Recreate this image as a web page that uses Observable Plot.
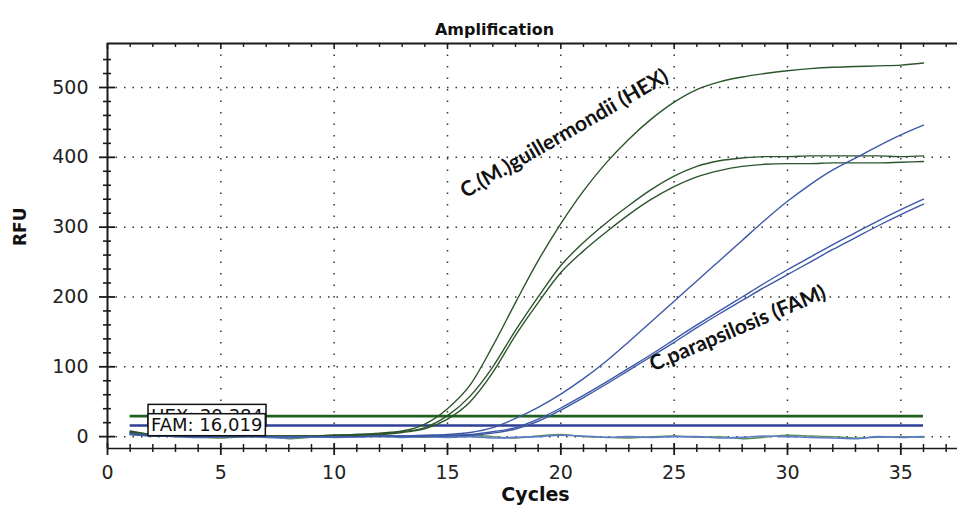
<!DOCTYPE html>
<html><head><meta charset="utf-8">
<script src="https://cdn.jsdelivr.net/npm/d3@7"></script>
<script src="https://cdn.jsdelivr.net/npm/@observablehq/plot@0.6"></script>
<style>body{margin:0;background:#fff;}</style>
</head><body><div id="chart"></div>
<script>
// ---- data ----
const cycles = [1,2,3,4,5,6,7,8,9,10,11,12,13,14,15,16,17,18,19,20,21,22,23,24,25,26,27,28,29,30,31,32,33,34,35,36];

const hex1 = [8,3,2,1,1,1,1,1,1,2,3,5,8,18,40,74,130,192,252,305,352,392,426,455,479,497,508,515,520,524,527,529,530,531,532,535];
const hex2 = [7,3,2,1,1,1,1,1,1,2,3,4,7,13,30,58,100,152,200,245,278,306,331,354,373,387,395,399,401,401,402,402,402,402,401,402];
const hex3 = [6,2,1,1,0,0,1,0,1,1,2,3,6,11,25,50,92,145,192,235,266,293,318,340,358,372,381,387,390,391,391,392,392,392,393,394];

const fam1 = [4,2,1,0,0,0,0,0,0,0,0,1,1,2,3,6,13,26,42,61,83,108,136,165,194,223,252,281,310,337,361,382,399,416,432,446];
const fam2 = [4,2,1,0,0,0,0,0,0,0,0,0,1,1,2,3,7,13,25,41,59,78,98,118,139,160,180,200,220,239,257,275,292,309,325,340];
const fam3 = [3,1,1,0,0,0,0,0,0,0,0,0,0,1,1,2,5,11,22,38,56,75,95,115,135,156,176,195,214,232,250,268,285,302,318,333];

const hexBaseline = [3,1,0,-1,-2,0,1,-3,-1,0,1,2,0,-1,1,2,0,-2,1,3,0,-1,-2,0,1,-1,0,-3,-1,2,1,0,-2,-1,0,-1];
const famBaseline = [6,2,0,-1,0,1,-1,-2,0,-1,0,1,-1,0,-1,0,-2,-1,0,2,1,-1,0,-1,0,0,-2,-1,1,0,-1,-2,-3,0,-1,0];

const thresholdNames  = ["HEX", "FAM"];
const thresholdValues = [29.384, 16.019];
const thresholdLabels = ["HEX: 29,384", "FAM: 16,019"];
const thresholdStart = 1, thresholdEnd = 36, thresholdLabelCycle = 1.92;

const xMajorTicks = [0,5,10,15,20,25,30,35];
const xMinorTicks = [1,2,3,4,6,7,8,9,11,12,13,14,16,17,18,19,21,22,23,24,26,27,28,29,31,32,33,34,36,37];
const yMajorTicks = [0,100,200,300,400,500];
const yMinorTicks = [20,40,60,80,120,140,160,180,220,240,260,280,320,340,360,380,420,440,460,480,520,540];

const xDomain = [0, 37.5];
const yDomain = [-17, 563];

const annotationTexts  = ["C.(M.)guillermondii (HEX)", "C.parapsilosis (FAM)"];
const annotationCycles = [20.15, 27.8];
const annotationRFU    = [434, 155];
const annotationAngles = [-30, -23];

// ---- build tables ----
const rows = (vals, series) => cycles.map((c, i) => ({cycle: c, rfu: vals[i], series}));
const hexCurves = [...rows(hex1, "h1"), ...rows(hex2, "h2"), ...rows(hex3, "h3")];
const famCurves = [...rows(fam1, "f1"), ...rows(fam2, "f2"), ...rows(fam3, "f3")];
const thresholds = thresholdNames.map((n, i) => ({name: n, value: thresholdValues[i], label: thresholdLabels[i]}));
const annotations = annotationTexts.map((t, i) => ({text: t, cycle: annotationCycles[i], rfu: annotationRFU[i], angle: annotationAngles[i]}));

const GREEN = "#2c552c", BLUE = "#3d58a6";
const INK = "#1a1a1a";
const FONT = "DejaVu Sans";

const chart = Plot.plot({
  width: 957, height: 511,
  marginLeft: 107, marginRight: 0, marginTop: 43, marginBottom: 63,
  x: {domain: xDomain},
  y: {domain: yDomain},
  style: {fontFamily: FONT, background: "#fff", color: INK, overflow: "visible"},
  marks: [
    // dotted grid
    Plot.ruleX(xMajorTicks.slice(1), {stroke: "#333", strokeWidth: 1.5, strokeDasharray: "1.5,10"}),
    Plot.ruleY(yMajorTicks, {stroke: "#333", strokeWidth: 1.5, strokeDasharray: "1.5,7"}),
    // thresholds
    Plot.ruleY(thresholds, {y: "value", x1: thresholdStart, x2: thresholdEnd,
      stroke: d => d.name === "HEX" ? "#1f5f1f" : "#2e3f95", strokeWidth: 2.6}),
    // baseline noise
    Plot.line(cycles.map((c, i) => ({cycle: c, rfu: hexBaseline[i]})), {x: "cycle", y: "rfu", stroke: "#5d8f5d", strokeWidth: 1.4, curve: "monotone-x"}),
    Plot.line(cycles.map((c, i) => ({cycle: c, rfu: famBaseline[i]})), {x: "cycle", y: "rfu", stroke: "#5a7cc8", strokeWidth: 1.6, curve: "monotone-x"}),
    // amplification curves
    Plot.line(hexCurves, {x: "cycle", y: "rfu", z: "series", stroke: GREEN, strokeWidth: 1.4, curve: "monotone-x"}),
    Plot.line(famCurves, {x: "cycle", y: "rfu", z: "series", stroke: BLUE, strokeWidth: 1.4, curve: "monotone-x"}),
    // frame / axis lines
    Plot.ruleX([xDomain[0]], {stroke: INK, strokeWidth: 2}),
    Plot.ruleY([yDomain[1]], {stroke: INK, strokeWidth: 2}),
    Plot.ruleY([yDomain[0]], {stroke: INK, strokeWidth: 1.6}),
    // left ticks
    Plot.ruleY(yMinorTicks, {x1: xDomain[0], x2: xDomain[0], insetLeft: -4, insetRight: -4, stroke: INK, strokeWidth: 1.6}),
    Plot.ruleY(yMajorTicks, {x1: xDomain[0], x2: xDomain[0], insetLeft: -8, insetRight: -8, stroke: INK, strokeWidth: 1.8}),
    // bottom ticks
    Plot.ruleX(xMinorTicks, {y1: yDomain[0], y2: yDomain[0], insetTop: -4, insetBottom: -4, stroke: INK, strokeWidth: 1.5}),
    Plot.ruleX(xMajorTicks, {y1: yDomain[0], y2: yDomain[0], insetTop: -5, insetBottom: -7, stroke: INK, strokeWidth: 1.8}),
    // top ticks
    Plot.ruleX(xMinorTicks, {y1: yDomain[1], y2: yDomain[1], insetTop: 0, insetBottom: -4, stroke: INK, strokeWidth: 1.4}),
    Plot.ruleX(xMajorTicks, {y1: yDomain[1], y2: yDomain[1], insetTop: 0, insetBottom: -6, stroke: INK, strokeWidth: 1.6}),
    // tick labels
    Plot.axisY(yMajorTicks, {tickSize: 0, tickPadding: 19, fontSize: 19, fill: "#222", label: null}),
    Plot.axisX(xMajorTicks, {tickSize: 0, tickPadding: 17, fontSize: 19, fill: "#222", label: null}),
    // threshold labels (boxes added below)
    Plot.text(thresholds, {x: () => thresholdLabelCycle, y: "value", text: "label", textAnchor: "start",
      fontSize: 18, fill: "#111", className: "thr-label"}),
    // annotations
    ...annotations.map(a => Plot.text([a], {x: "cycle", y: "rfu", text: "text", rotate: a.angle,
      fontFamily: "Lato", fontWeight: "bold", fontSize: 21, fill: "#111"})),
    // titles
    Plot.text(["Amplification"], {frameAnchor: "top", dx: -38, dy: -20, fontWeight: "bold", fontSize: 16, fill: "#111"}),
    Plot.text(["Cycles"], {frameAnchor: "bottom", dx: 3, dy: 52, fontWeight: "bold", fontSize: 19, fill: "#111"}),
    Plot.text(["RFU"], {frameAnchor: "left", dx: -87, dy: 0, rotate: -90, fontWeight: "bold", fontSize: 17, fill: "#111"})
  ]
});

document.getElementById("chart").appendChild(chart);

// white boxes behind threshold labels
d3.select(chart).selectAll("g.thr-label text").each(function() {
  const bb = this.getBBox();
  const rect = document.createElementNS("http://www.w3.org/2000/svg", "rect");
  rect.setAttribute("x", bb.x - 3);
  rect.setAttribute("y", bb.y - 0.5);
  rect.setAttribute("width", bb.width + 6);
  rect.setAttribute("height", bb.height + 1);
  rect.setAttribute("fill", "#fff");
  rect.setAttribute("stroke", "#111");
  rect.setAttribute("stroke-width", 1.5);
  const t = this.getAttribute("transform");
  if (t) rect.setAttribute("transform", t);
  this.parentNode.insertBefore(rect, this);
});
</script>
</body></html>
